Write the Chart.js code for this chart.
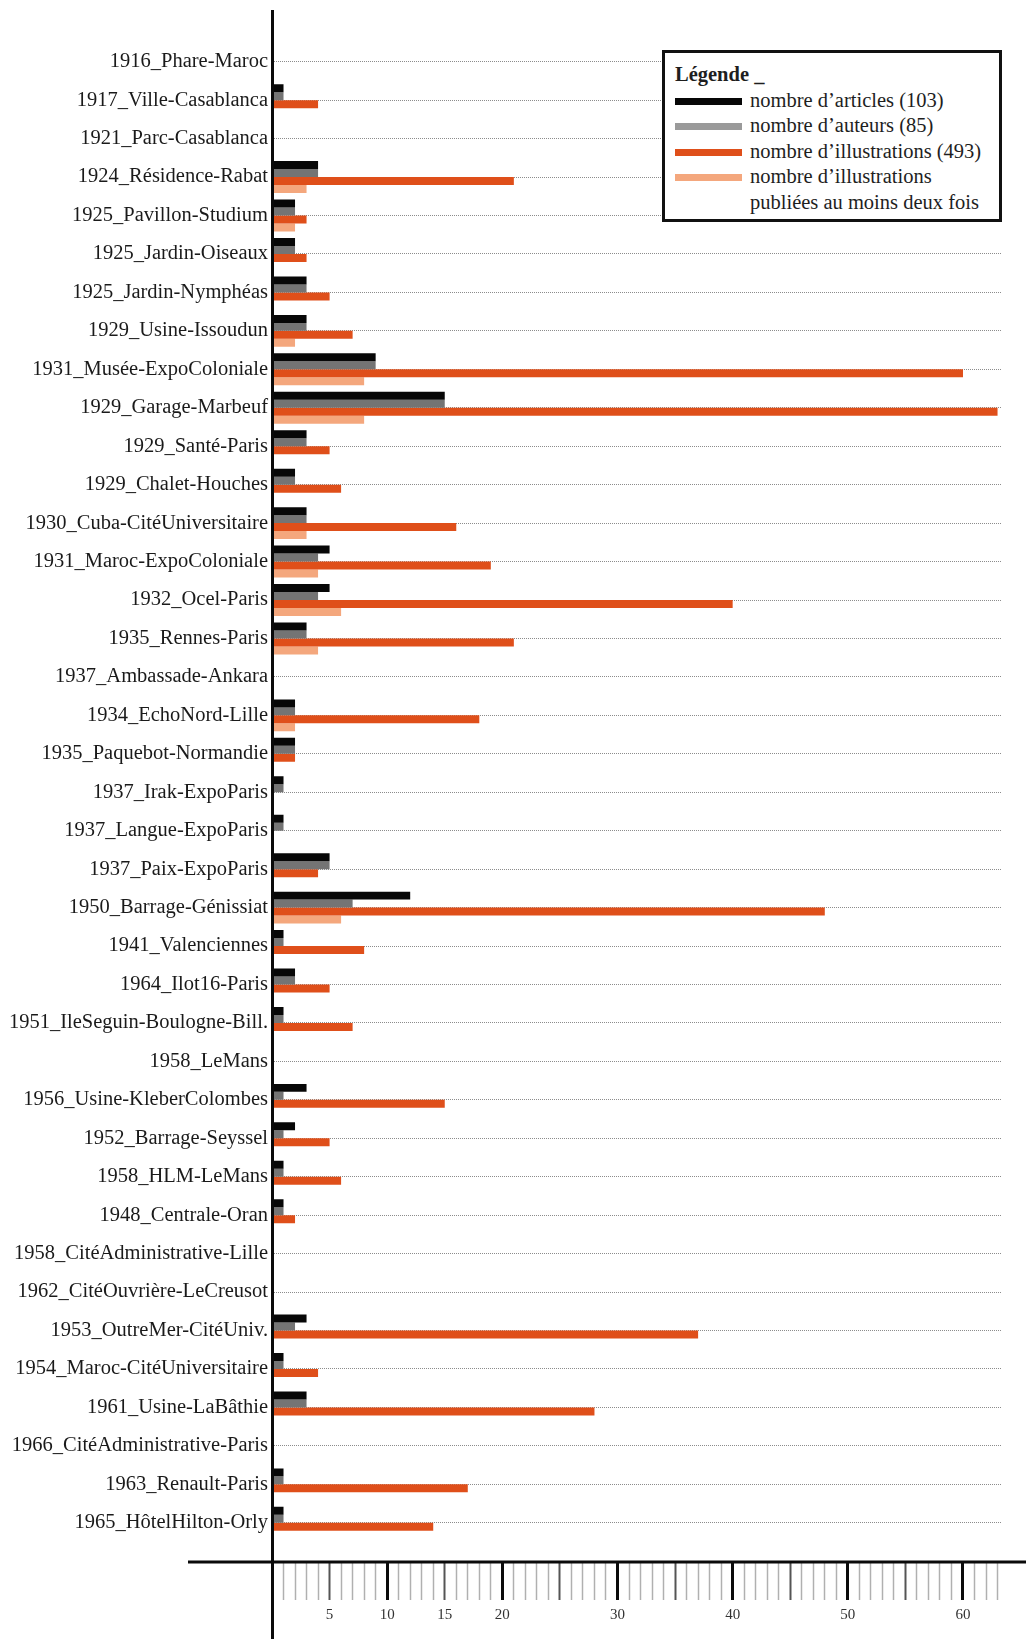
<!DOCTYPE html>
<html lang="fr">
<head>
<meta charset="utf-8">
<title>Articles, auteurs et illustrations par édifice</title>
<script src="https://cdn.jsdelivr.net/npm/chart.js@4/dist/chart.umd.min.js"></script>
<style>
  html, body { margin: 0; padding: 0; background: #fff; }
  #wrap { position: relative; width: 1026px; height: 1639px; }
  #legend {
    position: absolute; left: 662px; top: 50px; width: 340px; height: 172px;
    box-sizing: border-box; border: 3px solid #111; background: #fff;
    padding: 9px 8px 0 10px;
    font-family: 'Liberation Serif', serif; font-size: 20.5px; line-height: 25.6px; color: #1e1e1e;
  }
  #legend .title { font-weight: bold; }
  #legend .item { display: flex; align-items: flex-start; }
  #legend .swatch { flex: 0 0 67px; height: 7px; margin: 10px 8px 0 0; }
  #legend .txt { width: 245px; }
</style>
</head>
<body>
<div id="wrap">
  <canvas id="chart"></canvas>
  <div id="legend"></div>
</div>
<script>
// ── DATA ───────────────────────────────────────────────
const CATEGORIES = [
  '1916_Phare-Maroc', '1917_Ville-Casablanca', '1921_Parc-Casablanca', '1924_Résidence-Rabat',
  '1925_Pavillon-Studium', '1925_Jardin-Oiseaux', '1925_Jardin-Nymphéas', '1929_Usine-Issoudun',
  '1931_Musée-ExpoColoniale', '1929_Garage-Marbeuf', '1929_Santé-Paris', '1929_Chalet-Houches',
  '1930_Cuba-CitéUniversitaire', '1931_Maroc-ExpoColoniale', '1932_Ocel-Paris', '1935_Rennes-Paris',
  '1937_Ambassade-Ankara', '1934_EchoNord-Lille', '1935_Paquebot-Normandie', '1937_Irak-ExpoParis',
  '1937_Langue-ExpoParis', '1937_Paix-ExpoParis', '1950_Barrage-Génissiat', '1941_Valenciennes',
  '1964_Ilot16-Paris', '1951_IleSeguin-Boulogne-Bill.', '1958_LeMans', '1956_Usine-KleberColombes',
  '1952_Barrage-Seyssel', '1958_HLM-LeMans', '1948_Centrale-Oran', '1958_CitéAdministrative-Lille',
  '1962_CitéOuvrière-LeCreusot', '1953_OutreMer-CitéUniv.', '1954_Maroc-CitéUniversitaire', '1961_Usine-LaBâthie',
  '1966_CitéAdministrative-Paris', '1963_Renault-Paris', '1965_HôtelHilton-Orly',
];

const ARTICLES      = [0,1,0,4,2,2,3,3,9,15,3,2,3,5,5,3,0,2,2,1,1,5,12,1,2,1,0,3,2,1,1,0,0,3,1,3,0,1,1];
const AUTHORS       = [0,1,0,4,2,2,3,3,9,15,3,2,3,4,4,3,0,2,2,1,1,5,7,1,2,1,0,1,1,1,1,0,0,2,1,3,0,1,1];
const ILLUSTRATIONS = [0,4,0,21,3,3,5,7,60,63,5,6,16,19,40,21,0,18,2,0,0,4,48,8,5,7,0,15,5,6,2,0,0,37,4,28,0,17,14];
const REPUBLISHED   = [0,0,0,3,2,0,0,2,8,8,0,0,3,4,6,4,0,2,0,0,0,0,6,0,0,0,0,0,0,0,0,0,0,0,0,0,0,0,0];

const X_TICK_LABELS = [5, 10, 15, 20, 30, 40, 50, 60];

const SERIES = [
  { label: 'nombre d’articles (103)',      data: ARTICLES,      color: '#070707', swatch: '#070707' },
  { label: 'nombre d’auteurs (85)',        data: AUTHORS,       color: '#747474', swatch: '#9a9a9a' },
  { label: 'nombre d’illustrations (493)', data: ILLUSTRATIONS, color: '#df4f1a', swatch: '#df4f1a' },
  { label: 'nombre d’illustrations publiées au moins deux fois', data: REPUBLISHED, color: '#f4a77d', swatch: '#f4a77d' },
];

const FONT = "'Liberation Serif', 'Times New Roman', serif";
const LABEL_SIZE = 20.5;

// ── AXIS LINES (extend past the plot area, as in the original) ──
const axisLines = {
  id: 'axisLines',
  afterDatasetsDraw(chart) {
    const { ctx, chartArea } = chart;
    ctx.save();
    ctx.strokeStyle = '#0a0a0a';
    ctx.lineWidth = 3;
    ctx.beginPath();
    ctx.moveTo(chartArea.left + 0.5, 10);
    ctx.lineTo(chartArea.left + 0.5, chart.height);
    ctx.moveTo(188, chartArea.bottom);
    ctx.lineTo(chart.width, chartArea.bottom);
    ctx.stroke();
    ctx.restore();
  }
};

// ── CHART ──────────────────────────────────────────────
const canvas = document.getElementById('chart');
canvas.parentNode.style.height = '1639px';

const isRow = v => Number.isInteger(v) && v >= 0 && v < CATEGORIES.length;

const chart = new Chart(canvas, {
  type: 'bar',
  data: {
    labels: CATEGORIES.map((c, i) => i),
    datasets: SERIES.map(s => ({
      label: s.label,
      data: s.data,
      backgroundColor: s.color,
      borderWidth: 0,
      categoryPercentage: 0.83,
      barPercentage: 1.0,
    })),
  },
  options: {
    indexAxis: 'y',
    responsive: true,
    maintainAspectRatio: false,
    animation: false,
    layout: { padding: { top: 42.5, right: 25, left: 0, bottom: 0 } },
    plugins: {
      legend: { display: false },
      tooltip: { enabled: false },
    },
    scales: {
      y: {
        type: 'linear',
        reverse: true,
        offset: false,
        min: -0.5,
        max: 39.02,
        afterFit: scale => { scale.width = 272; },
        border: { display: false, dash: [1, 1] },
        grid: {
          offset: false,
          drawTicks: false,
          color: ctx => (ctx.tick && isRow(ctx.tick.value)) ? '#8c8c8c' : 'rgba(0,0,0,0)',
          lineWidth: 1,
        },
        ticks: {
          stepSize: 1,
          autoSkip: false,
          includeBounds: false,
          maxTicksLimit: 100,
          padding: 4,
          color: '#1a1a1a',
          font: { family: FONT, size: LABEL_SIZE },
          callback: v => isRow(v) ? CATEGORIES[v] : '',
        },
      },
      x: {
        type: 'linear',
        min: 0,
        max: 63.3,
        afterFit: scale => { scale.height = 77; },
        border: { display: false },
        grid: {
          drawOnChartArea: false,
          drawTicks: true,
          offset: false,
          tickLength: 38,
          tickColor: ctx => {
            const v = ctx.tick ? ctx.tick.value : 0;
            if (v === 0) return 'rgba(0,0,0,0)';
            if (v % 10 === 0) return '#0a0a0a';
            if (v % 5 === 0) return '#555';
            return '#b0b0b0';
          },
          tickWidth: ctx => {
            const v = ctx.tick ? ctx.tick.value : 0;
            if (v % 10 === 0) return 3;
            if (v % 5 === 0) return 2;
            return 1.5;
          },
        },
        ticks: {
          stepSize: 1,
          autoSkip: false,
          includeBounds: false,
          maxTicksLimit: 100,
          maxRotation: 0,
          padding: 6,
          color: '#333',
          font: { family: FONT, size: 15 },
          callback: v => X_TICK_LABELS.includes(v) ? String(v) : '',
        },
      },
    },
  },
  plugins: [axisLines],
});

// ── LEGEND ─────────────────────────────────────────────
const legend = document.getElementById('legend');
legend.innerHTML = '<div class="title">Légende _</div>' + SERIES.map(s => `
  <div class="item">
    <div class="swatch" style="background:${s.swatch}"></div>
    <div class="txt">${s.label}</div>
  </div>`).join('');
</script>
</body>
</html>
